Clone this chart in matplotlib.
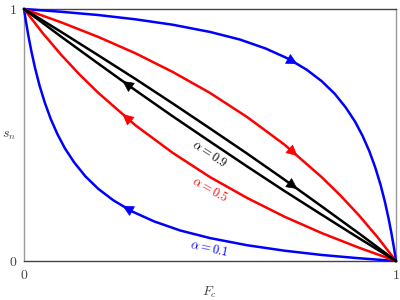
import numpy as np
import matplotlib
matplotlib.use("Agg")
import matplotlib.pyplot as plt
from matplotlib.patches import FancyArrowPatch

plt.rcParams['mathtext.fontset'] = 'cm'
plt.rcParams['font.family'] = 'DejaVu Serif'

# curve samples (F_c, s_n)
# alpha = 0.1
fc_lo_01 = [0, 0.005, 0.012, 0.02, 0.03, 0.042, 0.056, 0.072, 0.09, 0.11, 0.135, 0.165,
            0.2, 0.24, 0.29, 0.35, 0.42, 0.5, 0.6, 0.7, 0.8, 0.9, 1.0]
sn_lo_01 = [1.0, 0.952, 0.892, 0.831, 0.764, 0.695, 0.628, 0.563, 0.503, 0.447, 0.391, 0.336,
            0.286, 0.241, 0.197, 0.157, 0.121, 0.091, 0.0625, 0.041, 0.024, 0.011, 0.0]
fc_up_01 = [0, 0.1, 0.2, 0.3, 0.4, 0.5, 0.58, 0.65, 0.71, 0.76, 0.8, 0.835,
            0.865, 0.89, 0.91, 0.928, 0.944, 0.958, 0.97, 0.98, 0.988, 0.995, 1.0]
sn_up_01 = [1.0, 0.989, 0.976, 0.959, 0.9375, 0.909, 0.879, 0.843, 0.803, 0.759, 0.714, 0.664,
            0.609, 0.553, 0.497, 0.437, 0.372, 0.305, 0.236, 0.169, 0.108, 0.048, 0.0]
# alpha = 0.5
fc_lo_05 = [0, 0.05, 0.1, 0.15, 0.2, 0.3, 0.4, 0.5, 0.6, 0.7, 0.8, 0.9, 1.0]
sn_lo_05 = [1.0, 0.905, 0.818, 0.739, 0.667, 0.538, 0.429, 0.333, 0.25, 0.176, 0.111, 0.053, 0.0]
fc_up_05 = [0, 0.1, 0.2, 0.3, 0.4, 0.5, 0.6, 0.7, 0.8, 0.85, 0.9, 0.95, 1.0]
sn_up_05 = [1.0, 0.947, 0.889, 0.824, 0.75, 0.667, 0.571, 0.462, 0.333, 0.261, 0.182, 0.095, 0.0]
# alpha = 0.9
fc_lo_09 = [0, 0.1, 0.2, 0.3, 0.4, 0.5, 0.6, 0.7, 0.8, 0.9, 1.0]
sn_lo_09 = [1.0, 0.890, 0.783, 0.677, 0.574, 0.474, 0.375, 0.278, 0.184, 0.091, 0.0]
fc_up_09 = [0, 0.1, 0.2, 0.3, 0.4, 0.5, 0.6, 0.7, 0.8, 0.9, 1.0]
sn_up_09 = [1.0, 0.909, 0.816, 0.722, 0.625, 0.526, 0.426, 0.323, 0.217, 0.110, 0.0]

curves = [
    ('blue', fc_lo_01, sn_lo_01, fc_up_01, sn_up_01),
    ('red', fc_lo_05, sn_lo_05, fc_up_05, sn_up_05),
    ('black', fc_lo_09, sn_lo_09, fc_up_09, sn_up_09),
]

fig = plt.figure(figsize=(4, 3), dpi=100)
ax = fig.add_axes([0.06, 0.13, 0.93, 0.84])


def arrow(xs, ys, x_tail, x_tip, color):
    p0 = (x_tail, np.interp(x_tail, xs, ys))
    p1 = (x_tip, np.interp(x_tip, xs, ys))
    a = FancyArrowPatch(p0, p1, arrowstyle='-|>,head_length=0.6,head_width=0.3',
                        mutation_scale=12, color=color, lw=0.5,
                        shrinkA=0, shrinkB=0, zorder=4, clip_on=False)
    ax.add_patch(a)


for color, xl, yl, xu, yu in curves:
    ax.plot(xl, yl, color=color, lw=1.8, clip_on=False, zorder=3, solid_capstyle='round')
    ax.plot(xu, yu, color=color, lw=1.8, clip_on=False, zorder=3, solid_capstyle='round')
    arrow(xu, yu, 0.70, 0.735, color)
    arrow(xl, yl, 0.30, 0.265, color)

ax.text(0.5, 0.426, r'$\alpha = \mathit{0.9}$', color='black', fontsize=9,
        rotation=-33, rotation_mode='anchor', ha='center', va='center')
ax.text(0.5, 0.284, r'$\alpha = \mathit{0.5}$', color='red', fontsize=9,
        rotation=-29, rotation_mode='anchor', ha='center', va='center')
ax.text(0.497, 0.05, r'$\alpha = \mathit{0.1}$', color='blue', fontsize=9,
        rotation=-12, rotation_mode='anchor', ha='center', va='center')

ax.set_xlim(0, 1)
ax.set_ylim(0, 1)
ax.set_xticks([0, 1])
ax.set_yticks([0, 1])
ax.set_xticklabels([r'$0$', r'$1$'])
ax.set_yticklabels([r'$0$', r'$1$'])
ax.tick_params(length=0, labelsize=10, labelcolor='#444444', pad=5)

for s in ['top', 'bottom']:
    ax.spines[s].set_color('#444444')
for s in ['left', 'right']:
    ax.spines[s].set_color('#999999')
for s in ax.spines.values():
    s.set_linewidth(1.0)

ax.set_xlabel(r'$F_c$', fontsize=10, color='#444444', va='center', ha='center')
ax.xaxis.set_label_coords(0.5, -0.124)
ax.set_ylabel(r'$s_n$', fontsize=10, color='#444444', rotation=0, va='center', ha='center')
ax.yaxis.set_label_coords(-0.04, 0.5)

fig.savefig('out.png', dpi=100)
